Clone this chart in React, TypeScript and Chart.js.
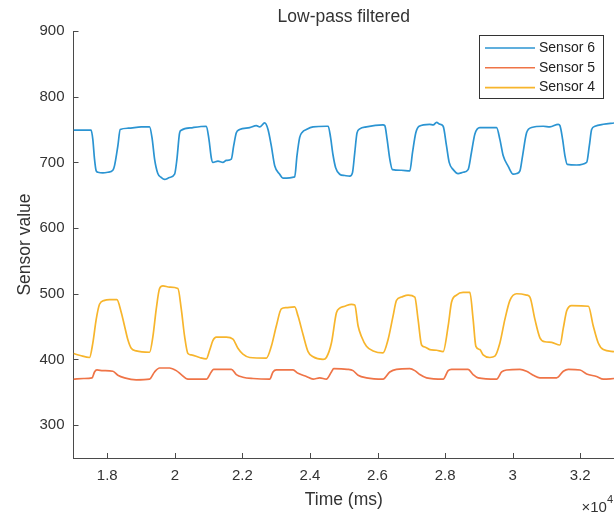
import { useEffect, useRef } from 'react';
import { Chart, registerables } from 'chart.js';

Chart.register(...registerables);

const FONT = "'Liberation Sans', Arial, Helvetica, sans-serif";
const TEXT = '#333333';
const AXIS = '#4a4a4a';

const chartTitle = 'Low-pass filtered';
const xTitle = 'Time (ms)';
const yTitle = 'Sensor value';
const xExponent = '4';

const xTickValues = [18000, 20000, 22000, 24000, 26000, 28000, 30000, 32000];
const xTickLabels = ['1.8', '2', '2.2', '2.4', '2.6', '2.8', '3', '3.2'];
const yTickValues = [300, 400, 500, 600, 700, 800, 900];

const seriesNames = ['Sensor 6', 'Sensor 5', 'Sensor 4'];
const seriesColors = ['#2b94d2', '#ef7447', '#f7b52c'];

const sensor6Time = [
  17000, 17520, 17572, 17622, 17672, 17721, 17869, 18017, 18165, 18215, 18313, 18383, 18612, 19007, 19252,
  19331, 19400, 19496, 19598, 19696, 19844, 19993, 20062, 20141, 20190, 20536, 20932, 21010, 21079, 21128,
  21277, 21425, 21523, 21672, 21741, 21820, 21919, 22215, 22412, 22511, 22659, 22758, 22856, 22956, 23104,
  23200, 23548, 23615, 23696, 23774, 23893, 24091, 24486, 24540, 24610, 24680, 24760, 24880, 25030, 25178,
  25257, 25326, 25393, 25474, 25672, 26163, 26215, 26284, 26363, 26442, 26700, 26956, 27035, 27133, 27230,
  27541, 27650, 27748, 27844, 27943, 28042, 28121, 28240, 28385, 28533, 28681, 28780, 28880, 29030, 29524,
  29622, 29721, 29869, 30017, 30120, 30215, 30294, 30412, 30561, 30905, 31104, 31350, 31400, 31479, 31548,
  31615, 31895, 32190, 32269, 32338, 32437, 32684, 33000,
];
const sensor6Values = [
  749, 749, 735, 705, 687, 685, 684, 685, 688, 695, 725, 750, 752, 754, 754,
  735, 705, 683, 677, 674, 677, 682, 705, 745, 749, 753, 755, 735, 707, 700,
  702, 700, 703, 705, 725, 745, 750, 753, 756, 754, 760, 750, 725, 695, 682,
  676, 678, 710, 738, 746, 750, 754, 755, 755, 738, 712, 692, 682, 680, 679,
  684, 715, 745, 751, 754, 757, 756, 735, 705, 689, 688, 687, 715, 745, 755,
  758, 757, 761, 758, 755, 725, 700, 689, 683, 685, 689, 715, 743, 753, 753,
  735, 710, 694, 682, 683, 687, 710, 745, 753, 755, 754, 758, 756, 735, 710,
  697, 696, 700, 725, 750, 755, 758, 760,
];

const sensor5Time = [
  17000, 17300, 17550, 17622, 17694, 17869, 18165, 18313, 18511, 18857, 19252, 19400, 19548, 19844, 20042,
  20190, 20387, 20932, 21079, 21148, 21672, 21820, 22015, 22313, 22807, 22906, 23004, 23498, 23647, 23895,
  24091, 24289, 24486, 24635, 24704, 25100, 25276, 25425, 25672, 26163, 26363, 26561, 26956, 27104, 27252,
  27452, 27943, 28091, 28190, 28681, 28830, 28978, 29524, 29674, 29822, 30215, 30412, 30610, 30807, 31301,
  31500, 31648, 31993, 32190, 32486, 32684, 33000,
];
const sensor5Values = [
  370, 371, 372, 381, 384, 383, 382, 376, 372, 369, 370, 381, 387, 387, 383,
  377, 370, 370, 381, 385, 385, 377, 373, 371, 370, 381, 384, 384, 379, 374,
  370, 372, 370, 381, 386, 385, 383, 376, 372, 370, 381, 385, 386, 383, 377,
  372, 370, 383, 385, 385, 377, 372, 370, 381, 384, 385, 382, 376, 372, 372,
  382, 385, 384, 378, 374, 370, 371,
];

const sensor4Time = [
  17000, 17200, 17474, 17572, 17672, 17770, 17919, 18067, 18284, 18412, 18511, 18610, 18709, 18857, 19252,
  19351, 19450, 19548, 19647, 19844, 20091, 20190, 20289, 20387, 20486, 20733, 20932, 21030, 21128, 21228,
  21523, 21720, 21867, 22015, 22215, 22709, 22856, 23004, 23152, 23300, 23548, 23647, 23795, 23943, 24091,
  24387, 24486, 24635, 24783, 24881, 25030, 25227, 25326, 25425, 25524, 25672, 25869, 26163, 26311, 26459,
  26561, 26709, 26905, 27104, 27200, 27304, 27400, 27548, 27748, 27941, 28091, 28190, 28338, 28533, 28733,
  28830, 28911, 29030, 29126, 29326, 29474, 29622, 29770, 29919, 30117, 30412, 30511, 30659, 30807, 30956,
  31154, 31400, 31500, 31600, 31748, 32242, 32386, 32534, 32684, 33000,
];
const sensor4Values = [
  409, 406, 403, 425, 461, 484, 490, 491, 491, 472, 451, 430, 417, 413, 411,
  435, 477, 508, 512, 510, 508, 477, 435, 409, 407, 403, 401, 414, 429, 434,
  434, 431, 417, 408, 403, 402, 420, 451, 477, 479, 480, 466, 438, 412, 404,
  400, 403, 425, 471, 478, 481, 484, 483, 451, 435, 420, 413, 410, 430, 466,
  490, 495, 498, 495, 461, 422, 419, 415, 414, 412, 451, 487, 498, 502, 502,
  461, 420, 415, 407, 403, 405, 425, 461, 490, 500, 498, 495, 461, 433, 427,
  426, 422, 448, 474, 482, 481, 451, 425, 415, 412,
];

const toPoints = (t: number[], v: number[]) => t.map((x, i) => ({ x, y: v[i] }));

const overlayPlugin = {
  id: 'matlabOverlay',
  afterDraw(chart: any) {
    const { ctx, chartArea, scales } = chart;
    ctx.save();
    // inward tick marks
    ctx.strokeStyle = AXIS;
    ctx.lineWidth = 1;
    ctx.beginPath();
    for (const v of yTickValues) {
      const py = Math.round(scales.y.getPixelForValue(v)) + 0.5;
      ctx.moveTo(chartArea.left, py);
      ctx.lineTo(chartArea.left + 5, py);
    }
    for (const v of xTickValues) {
      const px = Math.round(scales.x.getPixelForValue(v)) + 0.5;
      ctx.moveTo(px, chartArea.bottom);
      ctx.lineTo(px, chartArea.bottom - 5);
    }
    ctx.stroke();

    // title
    ctx.fillStyle = TEXT;
    ctx.font = `17.5px ${FONT}`;
    ctx.textAlign = 'center';
    ctx.textBaseline = 'alphabetic';
    ctx.fillText(chartTitle, (chartArea.left + chartArea.right) / 2, 22);

    // legend
    const bx = 479.5, by = 35.5, bw = 124, bh = 63;
    ctx.fillStyle = '#ffffff';
    ctx.fillRect(bx, by, bw, bh);
    ctx.strokeStyle = '#333333';
    ctx.lineWidth = 1;
    ctx.strokeRect(bx, by, bw, bh);
    ctx.font = `14px ${FONT}`;
    ctx.textAlign = 'left';
    ctx.textBaseline = 'middle';
    seriesNames.forEach((name, i) => {
      const ly = 48 + i * 19.8;
      ctx.strokeStyle = seriesColors[i];
      ctx.lineWidth = 1.6;
      ctx.beginPath();
      ctx.moveTo(485, ly);
      ctx.lineTo(535, ly);
      ctx.stroke();
      ctx.fillStyle = '#222222';
      ctx.fillText(name, 539, ly);
    });

    // x exponent
    ctx.fillStyle = TEXT;
    ctx.textAlign = 'right';
    ctx.textBaseline = 'alphabetic';
    ctx.font = `11px ${FONT}`;
    ctx.fillText(xExponent, 613, 503);
    const wExp = ctx.measureText(xExponent).width;
    ctx.font = `15px ${FONT}`;
    ctx.fillText('\u00d710', 613 - wExp, 512);
    ctx.restore();
  },
};

export default function App() {
  const ref = useRef<HTMLCanvasElement | null>(null);

  useEffect(() => {
    if (!ref.current) return;
    const series = [
      toPoints(sensor6Time, sensor6Values),
      toPoints(sensor5Time, sensor5Values),
      toPoints(sensor4Time, sensor4Values),
    ];
    const chart = new Chart(ref.current, {
      type: 'line',
      data: {
        datasets: series.map((data, i) => ({
          label: seriesNames[i],
          data,
          borderColor: seriesColors[i],
          backgroundColor: seriesColors[i],
          borderWidth: 1.7,
          pointRadius: 0,
          fill: false,
          cubicInterpolationMode: 'monotone' as const,
        })),
      },
      options: {
        animation: false,
        responsive: false,
        devicePixelRatio: 1,
        events: [],
        layout: { padding: { top: 31, left: 0, right: 0, bottom: 0 } },
        plugins: {
          legend: { display: false },
          title: { display: false },
          tooltip: { enabled: false },
        },
        scales: {
          x: {
            type: 'linear',
            min: 17000,
            max: 33000,
            afterBuildTicks: (s: any) => {
              s.ticks = xTickValues.map((value) => ({ value }));
            },
            afterFit: (s: any) => {
              s.height = 55;
            },
            ticks: {
              callback: (v: any) => {
                const i = xTickValues.indexOf(Number(v));
                return i >= 0 ? xTickLabels[i] : '';
              },
              font: { family: FONT, size: 15 },
              color: TEXT,
              padding: 9,
              maxRotation: 0,
              autoSkip: false,
            },
            grid: { display: false, drawTicks: false },
            border: { display: true, color: AXIS, width: 1 },
            title: {
              display: true,
              text: xTitle,
              font: { family: FONT, size: 17.5 },
              color: TEXT,
              padding: { top: 0, bottom: 2.3 },
            },
          },
          y: {
            type: 'linear',
            min: 250,
            max: 900,
            afterBuildTicks: (s: any) => {
              s.ticks = yTickValues.map((value) => ({ value }));
            },
            afterFit: (s: any) => {
              s.width = 73.5;
            },
            ticks: {
              font: { family: FONT, size: 15 },
              color: TEXT,
              padding: 9,
              autoSkip: false,
            },
            grid: { display: false, drawTicks: false },
            border: { display: true, color: AXIS, width: 1 },
            title: {
              display: true,
              text: yTitle,
              font: { family: FONT, size: 17.5 },
              color: TEXT,
              padding: { top: 15, bottom: 0 },
            },
          },
        },
      },
      plugins: [overlayPlugin],
    });
    return () => chart.destroy();
  }, []);

  return (
    <div style={{ position: 'absolute', left: 0, top: 0, width: 614, height: 513, background: '#ffffff' }}>
      <canvas ref={ref} width={614} height={513} style={{ display: 'block', width: 614, height: 513 }} />
    </div>
  );
}
